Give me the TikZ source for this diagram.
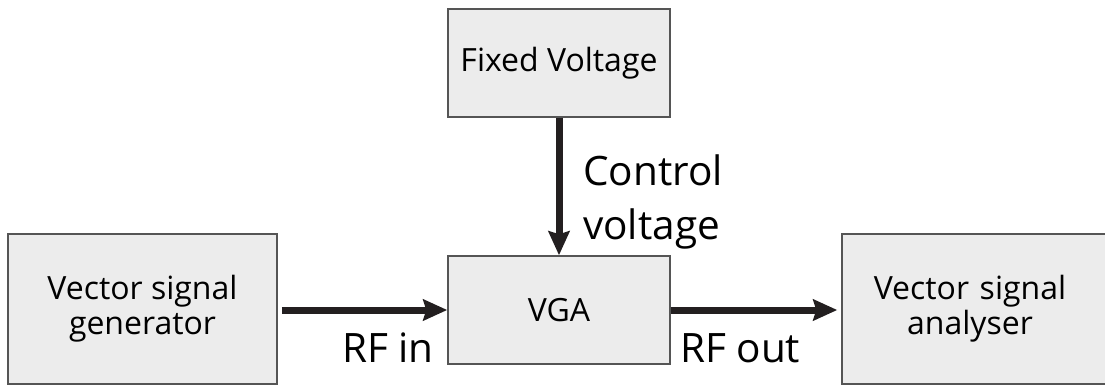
\documentclass[tikz,border=0pt]{standalone}
\usepackage{fontspec}
\setmainfont{Open Sans}
\usetikzlibrary{arrows.meta}
\definecolor{boxfill}{HTML}{ECECEC}
\definecolor{boxline}{HTML}{555555}
\definecolor{arrowcol}{HTML}{231F20}
\tikzset{
  block/.style={draw=boxline, fill=boxfill, line width=1.5pt, rectangle, inner sep=0pt, align=center, font=\fontsize{32}{35}\selectfont},
  conn/.style={draw=arrowcol, line width=7pt, -{Stealth[length=24pt,width=21pt,inset=3pt]}},
  lbl/.style={inner sep=0pt, font=\fontsize{40.5}{48}\selectfont}
}
\begin{document}
\begin{tikzpicture}[x=1pt,y=-1pt]
\useasboundingbox (0,0) rectangle (1105,385);
\node[block, minimum width=269pt, minimum height=150pt] (gen) at (142.5,309) {Vector signal\\generator};
\node[block, minimum width=222pt, minimum height=108pt] (fix) at (559,63) {Fixed Voltage};
\node[block, minimum width=222pt, minimum height=108pt] (vga) at (559,310) {VGA};
\node[block, minimum width=268pt, minimum height=150pt, text width=268pt, align=center] (ana) at (976,309) {\hspace*{-12pt}Vector signal\\\hspace*{-12pt}analyser};
\draw[conn, shorten <=4pt] (gen.east |- vga.west) -- (vga.west);
\draw[conn, shorten >=4pt] (vga.east) -- (ana.west |- vga.east);
\draw[conn] (fix.south) -- (vga.north);
\node[lbl, anchor=base east] (rfin) at (434,362) {RF in};
\node[lbl, anchor=base west] (rfout) at (680,362) {RF out};
\node[lbl, anchor=base west] (ctl1) at (583,185) {Control};
\node[lbl, anchor=base west] (ctl2) at (583,239) {voltage};
\end{tikzpicture}
\end{document}
